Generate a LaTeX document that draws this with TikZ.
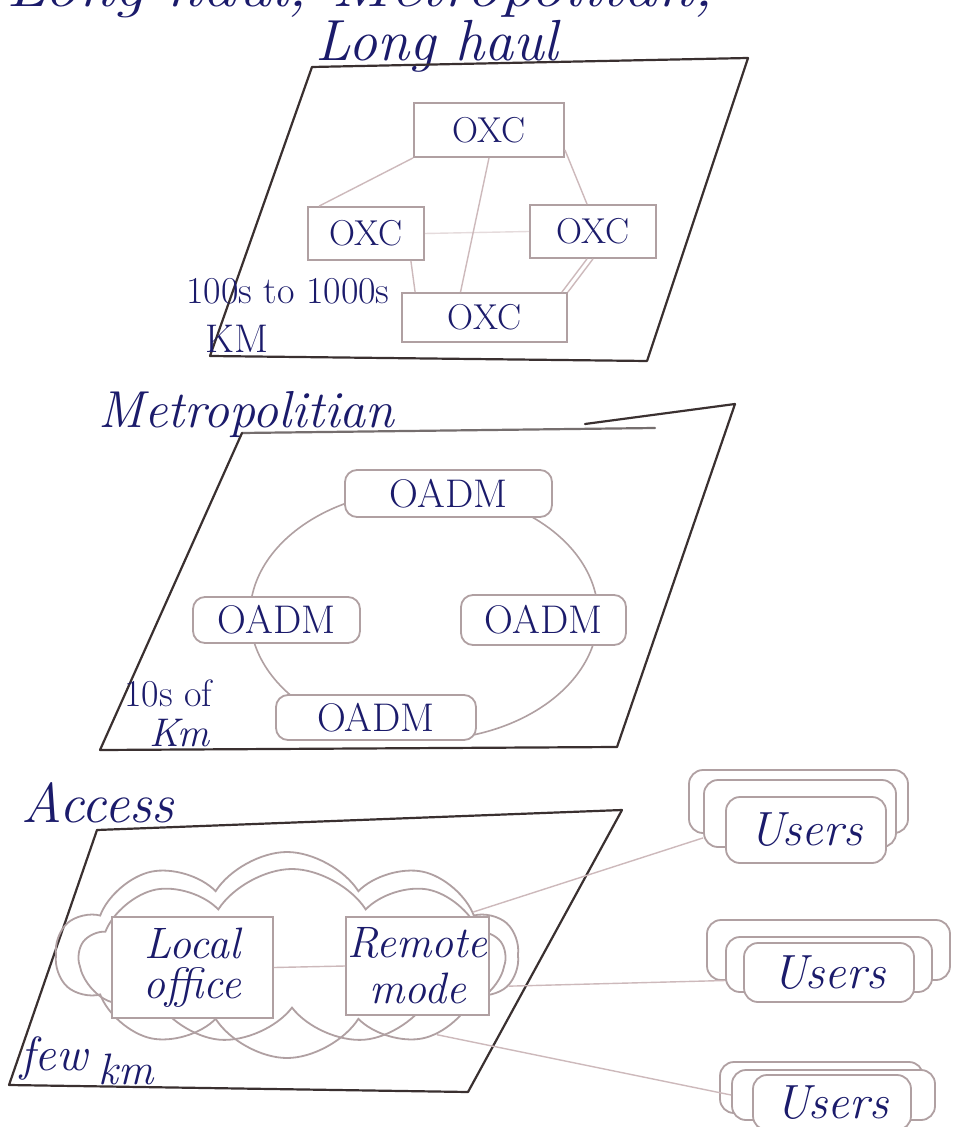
\documentclass[tikz,border=0pt]{standalone}
\usetikzlibrary{shapes.symbols}
\definecolor{ink}{HTML}{1B1B6B}
\definecolor{panelc}{HTML}{3A3030}
\definecolor{boxc}{HTML}{B0A0A2}
\definecolor{linkc}{HTML}{CDB9BB}
\begin{document}
\begin{tikzpicture}[x=0.5pt,y=-0.5pt,
  panel/.style={draw=panelc,line width=1.1pt,line join=round,line cap=round},
  box/.style={draw=boxc,line width=0.9pt,fill=white,text=ink,inner sep=0pt,font=\fontsize{18}{20}\selectfont},
  rbox/.style={box,rounded corners=6pt,font=\fontsize{20}{22}\selectfont},
  link/.style={draw=linkc,line width=0.7pt},
  ring/.style={draw=boxc,line width=0.8pt},
  title/.style={text=ink,inner sep=0pt,font=\fontsize{28}{30}\selectfont\itshape},
  note/.style={text=ink,inner sep=0pt,font=\fontsize{17}{19}\selectfont},
  ubox/.style={draw=boxc,line width=0.9pt,fill=white,rounded corners=7pt,inner sep=0pt,text=ink,font=\fontsize{24}{26}\selectfont\itshape},
  cloudbox/.style={draw=boxc,line width=0.9pt,fill=white,text=ink,inner sep=0pt,align=center}]

\useasboundingbox (0,0) rectangle (952,1127);
\clip (0,0) rectangle (952,1127);
\fill[white] (0,0) rectangle (952,1127);

% clipped heading line at the very top
\node[text=ink,inner sep=0pt,anchor=base west,font=\fontsize{28}{30}\selectfont\itshape] (toptext) at (6,7) {\scalebox{1.2}[1]{Long haul, Metropolitan,}};

% ---------------- Long haul ----------------
\node[title,anchor=base,font=\fontsize{29}{31}\selectfont\itshape] (lhtitle) at (437,61) {Long haul};
\draw[panel] (312,67) -- (748,58) -- (647,361) -- (210,356) -- cycle;

\node[box,minimum width=75pt,minimum height=27pt] (t) at (489,130) {OXC};
\node[box,minimum width=58pt,minimum height=26.5pt] (l) at (366,233.5) {OXC};
\node[box,minimum width=63pt,minimum height=26.5pt] (r) at (593,231.5) {OXC};
\node[box,minimum width=82.5pt,minimum height=24.5pt] (b) at (484.5,317.5) {OXC};

\draw[link] (t.south west) -- ([xshift=6pt]l.north west);
\draw[link] ([yshift=4pt]t.south east) -- ([xshift=-3pt]r.north);
\draw[link] (t.south) -- ([xshift=-12pt]b.north);
\draw[link,draw opacity=0.5] (l.east) -- (r.west);
\draw[link] ([xshift=-7pt]l.south east) -- ([xshift=7pt]b.north west);
\draw[link] ([xshift=-3pt]r.south) -- ([xshift=-3pt]b.north east);
\draw[link] (r.south) -- (b.north east);

\node[note,anchor=base west,font=\fontsize{19}{21}\selectfont] (lhdist) at (186,304) {100s to 1000s};
\node[note,anchor=base west,font=\fontsize{20}{22}\selectfont] (lhkm) at (205,353) {KM};

% ---------------- Metropolitan ----------------
\node[title,anchor=base west,font=\fontsize{26}{28}\selectfont\itshape] (mtitle) at (98,428) {Metropolitian};
\draw[panel,draw=panelc!70] (242,433) -- (655,428);
\draw[panel] (585,424) -- (735,404) -- (617,747) -- (100,750) -- (242,433);

\draw[ring] (424,615) ellipse [x radius=87pt, y radius=62.5pt];

\node[rbox,minimum width=103.5pt,minimum height=23.5pt] (mt) at (448.5,493.5) {OADM};
\node[rbox,minimum width=83.5pt,minimum height=23pt] (ml) at (276.5,620) {OADM};
\node[rbox,minimum width=82.5pt,minimum height=25pt] (mr) at (543.5,620) {OADM};
\node[rbox,minimum width=100pt,minimum height=22.5pt] (mb) at (376,717.5) {OADM};

\node[note,anchor=base west,font=\fontsize{19}{21}\selectfont] (mdist) at (124,706) {10s of};
\node[note,anchor=base west,font=\fontsize{20}{22}\selectfont\itshape] (mkm) at (149,746) {Km};

% ---------------- Access ----------------
\node[title,anchor=base west,font=\fontsize{28}{30}\selectfont\itshape] (atitle) at (21,822) {Access};
\draw[panel] (97,830) -- (622,810) -- (468,1092) -- (9,1085) -- cycle;

\node[cloud,draw=boxc,line width=0.9pt,cloud puffs=10,cloud puff arc=115,aspect=2.25,
      minimum width=231pt,minimum height=103pt,inner sep=0pt] (cloudo) at (287,955) {};
\node[cloud,draw=boxc,line width=0.9pt,cloud puffs=9,cloud puff arc=115,aspect=2.35,
      minimum width=212pt,minimum height=88pt,inner sep=0pt] (cloudi) at (292,957) {};

\node[cloudbox,minimum width=80.5pt,minimum height=50.5pt,font=\fontsize{22}{20}\selectfont\itshape] (lo) at (192.5,967.5) {Local\\office};
\node[cloudbox,minimum width=71.5pt,minimum height=49pt,font=\fontsize{22}{23}\selectfont\itshape] (rm) at (417.5,966) {Remote\\mode};
\draw[link] (lo.east) -- (rm.west);

% Users stacks
\node[ubox,minimum width=109.5pt,minimum height=31.5pt] (u1a) at (798.5,801.5) {};
\node[ubox,minimum width=96pt,minimum height=33.5pt] (u1b) at (800,813.5) {};
\node[ubox,minimum width=80pt,minimum height=33pt] (u1c) at (806,830) {Users};

\node[ubox,minimum width=121.5pt,minimum height=30pt] (u2a) at (828.5,950) {};
\node[ubox,minimum width=103pt,minimum height=27.5pt] (u2b) at (829,964.5) {};
\node[ubox,minimum width=85pt,minimum height=29.5pt] (u2c) at (829,972.5) {Users};

\node[ubox,minimum width=101.5pt,minimum height=25.5pt] (u3a) at (821.5,1087.5) {};
\node[ubox,minimum width=101.5pt,minimum height=25pt] (u3b) at (833.5,1095) {};
\node[ubox,minimum width=79pt,minimum height=27.5pt] (u3c) at (832,1102.5) {Users};

\draw[link] (cloudo.13) -- ([yshift=5pt]u1b.south west);
\draw[link] (cloudo.-8) -- ([yshift=-8pt]u2b.west);
\draw[link] (cloudo.-28) -- (u3b.west);

\node[note,anchor=base west,font=\fontsize{24}{26}\selectfont\itshape] (afew) at (20,1070) {few};
\node[note,anchor=base west,font=\fontsize{22}{24}\selectfont\itshape] (akm) at (98,1084) {km};
\end{tikzpicture}
\end{document}
